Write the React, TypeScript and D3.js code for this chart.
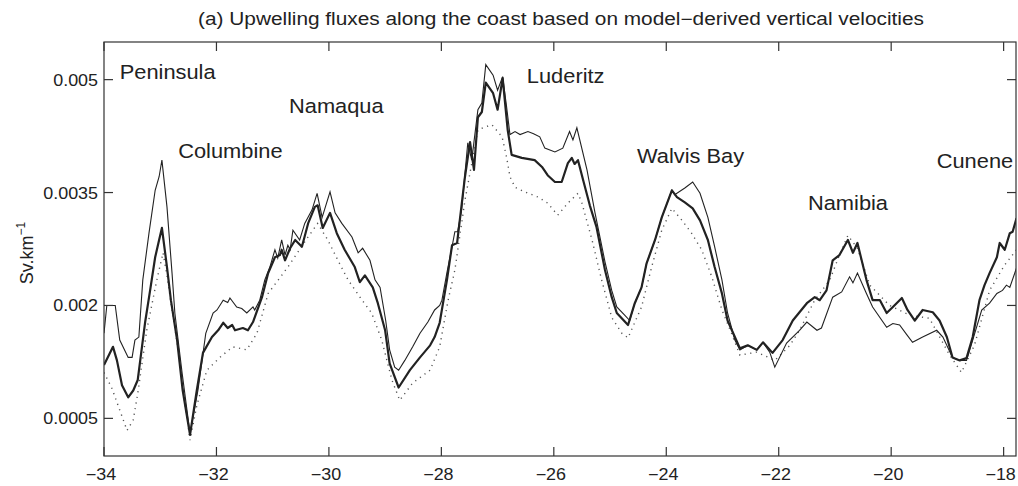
import React, { useEffect, useRef } from 'react';
import * as d3 from 'd3';

// latitude (deg) vs upwelling flux, flux given in 1e-3 Sv.km^-1
const thinSeries: [number, number][] = [
  [-34.0, 1.63], [-33.95, 2.0], [-33.8, 2.0], [-33.72, 1.54], [-33.57, 1.31], [-33.5, 1.31],
  [-33.45, 1.54], [-33.38, 1.58], [-33.31, 2.34], [-33.2, 2.96], [-33.09, 3.53], [-33.02, 3.71],
  [-32.97, 3.93], [-32.88, 3.31], [-32.79, 2.43], [-32.74, 1.9], [-32.61, 1.1], [-32.47, 0.3],
  [-32.33, 0.87], [-32.19, 1.63], [-32.06, 1.9], [-31.99, 1.94], [-31.88, 2.07], [-31.8, 2.04],
  [-31.76, 2.1], [-31.64, 1.98], [-31.55, 1.96], [-31.46, 1.9], [-31.35, 1.98], [-31.32, 1.94],
  [-31.23, 2.07], [-31.14, 2.34], [-31.05, 2.51], [-30.96, 2.74], [-30.91, 2.63], [-30.84, 2.87],
  [-30.78, 2.67], [-30.73, 2.8], [-30.69, 2.74], [-30.64, 3.0], [-30.52, 2.87], [-30.43, 3.09],
  [-30.3, 3.27], [-30.21, 3.49], [-30.12, 3.17], [-29.98, 3.51], [-29.89, 3.23], [-29.77, 3.09],
  [-29.59, 2.91], [-29.48, 2.7], [-29.4, 2.76], [-29.27, 2.6], [-29.18, 2.34], [-29.09, 2.24],
  [-28.99, 1.8], [-28.92, 1.41], [-28.83, 1.18], [-28.76, 1.14], [-28.65, 1.27], [-28.51, 1.45],
  [-28.38, 1.63], [-28.24, 1.78], [-28.12, 1.94], [-28.03, 2.0], [-27.99, 2.07], [-27.9, 2.44],
  [-27.81, 2.78], [-27.76, 2.98], [-27.71, 2.98], [-27.64, 3.27], [-27.53, 4.16], [-27.46, 3.93],
  [-27.35, 4.6], [-27.28, 4.69], [-27.21, 5.2], [-27.08, 5.06], [-27.0, 4.86], [-26.91, 5.04],
  [-26.84, 4.64], [-26.78, 4.27], [-26.69, 4.31], [-26.6, 4.27], [-26.46, 4.31], [-26.36, 4.28],
  [-26.25, 4.24], [-26.16, 4.09], [-25.98, 4.04], [-25.84, 4.09], [-25.72, 4.31], [-25.66, 4.2],
  [-25.59, 4.36], [-25.41, 3.8], [-25.27, 3.24], [-25.09, 2.58], [-24.97, 2.2], [-24.88, 1.98],
  [-24.74, 1.87], [-24.65, 1.8], [-24.56, 2.03], [-24.44, 2.24], [-24.35, 2.56], [-24.2, 2.87],
  [-24.08, 3.17], [-23.9, 3.53], [-23.85, 3.47], [-23.67, 3.56], [-23.53, 3.64], [-23.4, 3.49],
  [-23.26, 3.17], [-23.14, 2.78], [-23.01, 2.34], [-22.91, 1.9], [-22.78, 1.54], [-22.69, 1.41],
  [-22.55, 1.47], [-22.39, 1.41], [-22.28, 1.51], [-22.16, 1.38], [-22.07, 1.18], [-21.86, 1.5],
  [-21.63, 1.67], [-21.5, 1.78], [-21.32, 1.67], [-21.24, 1.7], [-21.04, 2.11], [-20.88, 2.18],
  [-20.74, 2.38], [-20.68, 2.3], [-20.6, 2.43], [-20.44, 2.16], [-20.33, 1.98], [-20.08, 1.71],
  [-19.97, 1.76], [-19.85, 1.74], [-19.72, 1.61], [-19.62, 1.51], [-19.44, 1.58], [-19.19, 1.67],
  [-19.08, 1.58], [-18.91, 1.31], [-18.78, 1.27], [-18.66, 1.27], [-18.55, 1.54], [-18.39, 1.94],
  [-18.25, 2.03], [-18.12, 2.16], [-18.02, 2.2], [-17.95, 2.27], [-17.89, 2.24], [-17.77, 2.5],
];

const thickSeries: [number, number][] = [
  [-34.0, 1.21], [-33.84, 1.45], [-33.77, 1.27], [-33.68, 0.94], [-33.57, 0.78], [-33.48, 0.87],
  [-33.4, 1.01], [-33.27, 1.77], [-33.18, 2.2], [-33.09, 2.64], [-33.02, 2.87], [-32.97, 3.03],
  [-32.88, 2.51], [-32.81, 2.07], [-32.7, 1.54], [-32.6, 0.87], [-32.47, 0.28], [-32.35, 0.87],
  [-32.24, 1.37], [-32.08, 1.58], [-31.97, 1.67], [-31.88, 1.77], [-31.8, 1.7], [-31.72, 1.74],
  [-31.67, 1.67], [-31.53, 1.7], [-31.44, 1.67], [-31.35, 1.78], [-31.19, 2.11], [-31.08, 2.43],
  [-30.96, 2.64], [-30.87, 2.67], [-30.84, 2.74], [-30.78, 2.6], [-30.69, 2.76], [-30.6, 2.87],
  [-30.48, 2.78], [-30.37, 3.09], [-30.25, 3.31], [-30.2, 3.33], [-30.11, 3.03], [-29.98, 3.23],
  [-29.86, 2.96], [-29.72, 2.74], [-29.54, 2.51], [-29.45, 2.31], [-29.36, 2.4], [-29.22, 2.24],
  [-29.13, 2.03], [-29.0, 1.67], [-28.92, 1.23], [-28.76, 0.91], [-28.56, 1.14], [-28.38, 1.31],
  [-28.2, 1.47], [-28.12, 1.58], [-28.03, 1.77], [-27.9, 2.34], [-27.81, 2.8], [-27.72, 2.83],
  [-27.58, 3.71], [-27.49, 4.17], [-27.42, 3.8], [-27.35, 4.5], [-27.28, 4.57], [-27.21, 4.96],
  [-27.08, 4.82], [-27.0, 4.6], [-26.91, 5.02], [-26.82, 4.33], [-26.75, 4.0], [-26.57, 3.96],
  [-26.34, 3.93], [-26.21, 3.84], [-26.11, 3.73], [-25.98, 3.64], [-25.86, 3.64], [-25.75, 3.89],
  [-25.68, 3.96], [-25.63, 3.88], [-25.57, 3.93], [-25.48, 3.67], [-25.36, 3.33], [-25.24, 3.04],
  [-25.09, 2.47], [-24.97, 2.11], [-24.88, 1.9], [-24.68, 1.74], [-24.56, 2.03], [-24.44, 2.24],
  [-24.35, 2.56], [-24.2, 2.87], [-24.08, 3.17], [-23.9, 3.53], [-23.81, 3.44], [-23.67, 3.37],
  [-23.53, 3.29], [-23.4, 3.13], [-23.26, 2.87], [-23.14, 2.51], [-23.01, 2.16], [-22.91, 1.8],
  [-22.78, 1.58], [-22.69, 1.43], [-22.55, 1.47], [-22.39, 1.41], [-22.28, 1.51], [-22.11, 1.37],
  [-21.93, 1.54], [-21.75, 1.8], [-21.5, 2.03], [-21.36, 2.11], [-21.27, 2.07], [-21.15, 2.2],
  [-21.04, 2.6], [-20.92, 2.67], [-20.77, 2.87], [-20.68, 2.7], [-20.6, 2.83], [-20.44, 2.34],
  [-20.33, 2.07], [-20.2, 2.07], [-20.08, 1.9], [-19.97, 1.98], [-19.81, 2.1], [-19.71, 1.94],
  [-19.58, 1.8], [-19.44, 1.94], [-19.26, 1.91], [-19.14, 1.8], [-19.01, 1.58], [-18.91, 1.31],
  [-18.78, 1.27], [-18.66, 1.3], [-18.55, 1.58], [-18.43, 2.07], [-18.34, 2.27], [-18.25, 2.43],
  [-18.12, 2.64], [-18.07, 2.83], [-17.98, 2.74], [-17.89, 2.96], [-17.84, 2.98], [-17.77, 3.16],
];

const dottedSeries: [number, number][] = [
  [-34.0, 1.11], [-33.86, 0.9], [-33.72, 0.61], [-33.59, 0.34], [-33.48, 0.48], [-33.4, 0.83],
  [-33.24, 1.67], [-33.06, 2.34], [-32.95, 2.7], [-32.88, 2.4], [-32.79, 1.94], [-32.68, 1.41],
  [-32.58, 0.81], [-32.47, 0.21], [-32.35, 0.67], [-32.17, 1.14], [-31.94, 1.31], [-31.71, 1.45],
  [-31.46, 1.41], [-31.28, 1.63], [-31.08, 2.16], [-30.73, 2.51], [-30.37, 2.91], [-30.2, 3.09],
  [-30.02, 2.87], [-29.84, 2.6], [-29.66, 2.34], [-29.41, 2.07], [-29.24, 1.9], [-29.06, 1.54],
  [-28.88, 1.01], [-28.74, 0.74], [-28.51, 0.97], [-28.2, 1.14], [-28.03, 1.45], [-27.88, 2.07],
  [-27.76, 2.47], [-27.58, 3.4], [-27.35, 4.33], [-27.23, 4.37], [-27.1, 4.4], [-26.92, 4.24],
  [-26.84, 3.97], [-26.78, 3.71], [-26.69, 3.57], [-26.52, 3.51], [-26.28, 3.44], [-26.11, 3.36],
  [-25.93, 3.2], [-25.75, 3.36], [-25.57, 3.49], [-25.5, 3.36], [-25.32, 2.87], [-25.15, 2.34],
  [-24.97, 1.84], [-24.79, 1.63], [-24.68, 1.57], [-24.44, 1.98], [-24.26, 2.51], [-24.08, 3.0],
  [-23.9, 3.29], [-23.72, 3.13], [-23.55, 2.96], [-23.37, 2.74], [-23.19, 2.38], [-23.01, 1.94],
  [-22.84, 1.63], [-22.69, 1.34], [-22.39, 1.38], [-22.07, 1.27], [-21.8, 1.47], [-21.63, 1.67],
  [-21.36, 2.07], [-21.09, 2.34], [-20.92, 2.67], [-20.77, 2.93], [-20.6, 2.76], [-20.38, 2.27],
  [-20.03, 2.0], [-19.67, 1.87], [-19.32, 1.83], [-18.96, 1.34], [-18.75, 1.11], [-18.52, 1.47],
  [-18.25, 2.2], [-17.98, 2.54], [-17.77, 2.74],
];

const xTicks = [-34, -32, -30, -28, -26, -24, -22, -20, -18];
const xTickLabels = ['−34', '−32', '−30', '−28', '−26', '−24', '−22', '−20', '−18'];
const yTicks = [0.0005, 0.002, 0.0035, 0.005];
const yTickLabels = ['0.0005', '0.002', '0.0035', '0.005'];

const regionNames = ['Peninsula', 'Columbine', 'Namaqua', 'Luderitz', 'Walvis Bay', 'Namibia', 'Cunene'];
// label anchor (lat, flux in 1e-3 Sv.km^-1)
const regionAnchors: [number, number][] = [
  [-33.72, 5.01], [-32.68, 3.96], [-30.71, 4.56], [-26.48, 4.96], [-24.52, 3.89], [-21.48, 3.27], [-19.19, 3.83],
];

const title = '(a) Upwelling fluxes along the coast based on model−derived vertical velocities';

const W = 1018;
const H = 486;
const FONT = '"Liberation Sans", Arial, Helvetica, sans-serif';
const INK = '#222';
const SX = 1.12; // source figure is stretched horizontally

const App: React.FC = () => {
  const svgRef = useRef<SVGSVGElement | null>(null);

  useEffect(() => {
    const svg = d3.select(svgRef.current);
    svg.selectAll('*').remove();

    const m = { left: 104, right: 1016, top: 42, bottom: 456 };
    const x = d3.scaleLinear().domain([-34, -17.78]).range([m.left, m.right]);
    const y = d3.scaleLinear().domain([0, 0.0055]).range([m.bottom, m.top]);

    const toSv = (s: [number, number][]) => s.map(d => [d[0], d[1] / 1000] as [number, number]);
    const line = d3
      .line<[number, number]>()
      .x(d => x(d[0]))
      .y(d => y(d[1]));

    svg
      .append('defs')
      .append('clipPath')
      .attr('id', 'plot-clip')
      .append('rect')
      .attr('x', m.left)
      .attr('y', m.top)
      .attr('width', m.right - m.left)
      .attr('height', m.bottom - m.top);

    const g = svg.append('g').attr('clip-path', 'url(#plot-clip)');

    g.append('path')
      .attr('d', line(toSv(dottedSeries)))
      .attr('fill', 'none')
      .attr('stroke', '#555')
      .attr('stroke-width', 1.4)
      .attr('stroke-dasharray', '1.2 4.5');

    g.append('path')
      .attr('d', line(toSv(thinSeries)))
      .attr('fill', 'none')
      .attr('stroke', INK)
      .attr('stroke-width', 1.1);

    g.append('path')
      .attr('d', line(toSv(thickSeries)))
      .attr('fill', 'none')
      .attr('stroke', INK)
      .attr('stroke-width', 2.2)
      .attr('stroke-linejoin', 'round');

    // frame
    svg
      .append('rect')
      .attr('x', m.left)
      .attr('y', m.top)
      .attr('width', m.right - m.left)
      .attr('height', m.bottom - m.top)
      .attr('fill', 'none')
      .attr('stroke', '#333')
      .attr('stroke-width', 1.2);

    const tk = 9;
    const ticks = svg.append('g').attr('stroke', '#333').attr('stroke-width', 1.2);
    xTicks.forEach(t => {
      ticks.append('line').attr('x1', x(t)).attr('x2', x(t)).attr('y1', m.bottom).attr('y2', m.bottom - tk);
      ticks.append('line').attr('x1', x(t)).attr('x2', x(t)).attr('y1', m.top).attr('y2', m.top + tk);
    });
    yTicks.forEach(t => {
      ticks.append('line').attr('x1', m.left).attr('x2', m.left + tk).attr('y1', y(t)).attr('y2', y(t));
      ticks.append('line').attr('x1', m.right).attr('x2', m.right - tk).attr('y1', y(t)).attr('y2', y(t));
    });

    const txt = (s: string, tx: number, ty: number, size: number, anchor: string, sx = SX) =>
      svg
        .append('text')
        .attr('transform', `translate(${tx},${ty}) scale(${sx},1)`)
        .attr('text-anchor', anchor)
        .attr('font-family', FONT)
        .attr('font-size', size)
        .attr('fill', INK)
        .text(s);

    xTicks.forEach((t, i) => txt(xTickLabels[i], x(t) - 3, 480, 16, 'middle'));
    yTicks.forEach((t, i) => txt(yTickLabels[i], 98, y(t) + 6, 16, 'end'));

    txt(title, 561, 25, 17.5, 'middle', 1.19);

    regionNames.forEach((n, i) => {
      const a = regionAnchors[i];
      txt(n, x(a[0]), y(a[1] / 1000), 19.5, 'start');
    });

    const yl = svg
      .append('text')
      .attr('transform', 'translate(33,253) rotate(-90)')
      .attr('text-anchor', 'middle')
      .attr('font-family', FONT)
      .attr('font-size', 18)
      .attr('fill', INK);
    yl.append('tspan').text('Sv.km');
    yl.append('tspan').attr('font-size', 12).attr('dy', -8).text('−1');
  }, []);

  return (
    <div style={{ position: 'absolute', left: 0, top: 0 }}>
      <svg ref={svgRef} width={W} height={H} style={{ display: 'block', background: '#fff' }}></svg>
    </div>
  );
};

export default App;
